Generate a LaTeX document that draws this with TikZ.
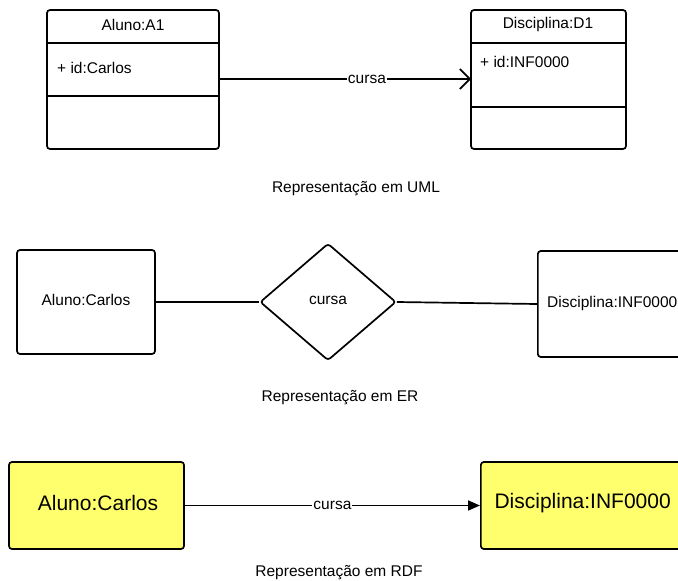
\documentclass[tikz,border=0pt]{standalone}
\usepackage{fontspec}
\setmainfont{Liberation Sans}
\usetikzlibrary{shapes.geometric,arrows.meta}
\definecolor{rdfyellow}{HTML}{FFFF6E}
\begin{document}
\begin{tikzpicture}[x=1pt,y=-1pt,
  box/.style={draw,line width=1.7pt,rounded corners=3pt},
  lbl/.style={font=\fontsize{15.5}{18}\selectfont,inner sep=1pt},
  captxt/.style={font=\fontsize{15.5}{18}\selectfont},
  big/.style={font=\fontsize{21}{24}\selectfont},
  conn/.style={line width=1.7pt}]
\clip (0,0) rectangle (678,581);
\fill[white] (0,0) rectangle (678,581);
% UML
\draw[box] (47,10) rectangle (219,149);
\draw[line width=1.7pt] (47,43) -- (219,43) (47,96) -- (219,96);
\node[lbl] (a1) at (133,25) {Aluno:A1};
\node[lbl,anchor=west] (a1id) at (56,68) {+ id:Carlos};
\coordinate (a1r) at (219,79);
\draw[box] (471,10) rectangle (626,149);
\draw[line width=1.7pt] (471,43) -- (626,43) (471,107) -- (626,107);
\node[lbl] (d1) at (548,24) {Disciplina:D1};
\node[lbl,anchor=west] (d1id) at (479,62) {+ id:INF0000};
\coordinate (d1l) at (471,79);
\draw[conn,-{Straight Barb[length=10pt,width=20pt,line width=1.7pt]}] (a1r) -- node[lbl,fill=white,pos=0.587] {cursa} (d1l);
\node[captxt] (uml) at (356,189) {Representação em UML};
% ER
\node[box,minimum width=138pt,minimum height=104pt] (ea) at (86,302) {};
\node[lbl] at (86,300) {Aluno:Carlos};
\node[draw,line width=1.7pt,diamond,rounded corners=3pt,aspect=1.16,minimum width=136pt,minimum height=117pt,inner sep=0pt] (dia) at (328,302) {};
\node[lbl] at (328,300) {cursa};
\node[box,minimum width=150pt,minimum height=106pt,anchor=west] (ed) at (537,304) {};
\node[lbl,anchor=west] at (546,303) {Disciplina:INF0000};
\draw[conn] (ea.east) -- (dia.west);
\draw[conn] (dia.east) -- (ed.west);
\node[captxt] (er) at (340,398) {Representação em ER};
% RDF
\node[box,fill=rdfyellow,minimum width=175pt,minimum height=87pt] (ra) at (96.5,505.5) {};
\node[big] at (98,503) {Aluno:Carlos};
\node[box,fill=rdfyellow,minimum width=215pt,minimum height=87pt,anchor=west] (rd) at (480,505.5) {};
\node[big,anchor=west] at (491,503) {Disciplina:INF0000};
\draw[conn,-{Triangle[length=12pt,width=10pt]}] (ra.east) -- node[lbl,fill=white] {cursa} (rd.west);
\node[captxt] (rdf) at (339,573) {Representação em RDF};
\end{tikzpicture}
\end{document}
